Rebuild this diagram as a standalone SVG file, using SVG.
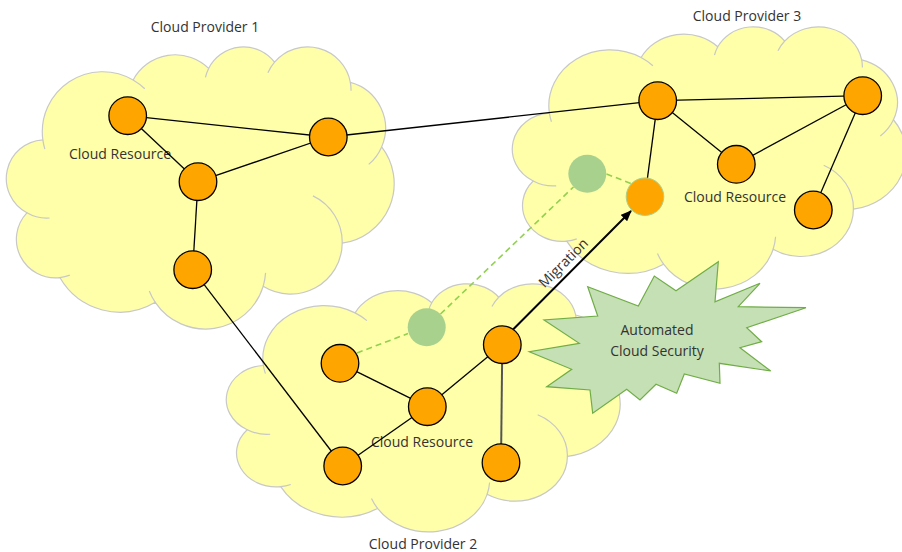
<svg xmlns="http://www.w3.org/2000/svg" xmlns:xlink="http://www.w3.org/1999/xlink" width="902" height="552" viewBox="0 0 902 552">
<style>
.cloud{fill:#FFFFA9;stroke:#C8C8C8;stroke-width:1.2}
.cloudln{fill:none;stroke:#C8C8C8;stroke-width:1.2}
.lbl{font-family:"Open Sans","Noto Sans","DejaVu Sans",sans-serif;font-size:14px;fill:#333;text-anchor:middle}
.edge{stroke:#000;stroke-width:1.3;fill:none}
.node{fill:#FFA500;stroke:#000;stroke-width:1.3}
.ghost{fill:#A9D18E;stroke:none}
.dash{stroke:#92D050;stroke-width:1.6;stroke-dasharray:6 4;fill:none}
</style>
<defs>
<path id="cloudShape" vector-effect="non-scaling-stroke" d="M3900 14370A6753 9190 0 0 1 14005 5202A5333 7267 0 0 1 22455 3432A4365 5945 0 0 1 29832 2479A4857 6595 0 0 1 38317 5574A5333 7273 0 0 1 41817 15458A6775 9220 0 0 1 37404 30204A5785 7867 0 0 1 28556 36814A6752 9215 0 0 1 16482 39268A7720 10543 0 0 1 5806 35475A4360 5918 0 0 1 2115 25554A4345 5945 0 0 1 3900 14370Z"/>
<path id="cloudLines" vector-effect="non-scaling-stroke" d="M4649 26351A4345 5945 0 0 1 2115 25554M6915 35094A4360 5918 0 0 1 5806 35475M16482 39268A6752 9215 0 0 1 15813 37526M28827 34751A6752 9215 0 0 1 28556 36814M34129 22954A5785 7867 0 0 1 37404 30204M41817 15458A5333 7273 0 0 1 40369 18135M38317 5574A4857 6595 0 0 1 38394 6839M29089 4093A4857 6595 0 0 1 29832 2479M22096 4820A4365 5945 0 0 1 22455 3432M14005 5202A6753 9190 0 0 1 15307 6554M4126 15790A6753 9190 0 0 1 3900 14370"/>
<marker id="arrow" markerUnits="userSpaceOnUse" markerWidth="11" markerHeight="9" refX="10" refY="4.5" orient="auto">
<path d="M0,0 L11,4.5 L0,9 z" fill="#000"/>
</marker>
</defs>

<g id="cloud1">
<g transform="translate(8,46) scale(0.0089352,0.0065278)">
<use xlink:href="#cloudShape" class="cloud"/>
<use xlink:href="#cloudLines" class="cloudln"/>
</g>
<text class="lbl" x="205" y="32">Cloud Provider 1</text>
</g>

<g id="cloud3">
<g transform="translate(514,26) scale(0.0090741,0.0060648)">
<use xlink:href="#cloudShape" class="cloud"/>
<use xlink:href="#cloudLines" class="cloudln"/>
</g>
<text class="lbl" x="747" y="21">Cloud Provider 3</text>
</g>

<g id="cloud2">
<g transform="translate(228,283) scale(0.0090741,0.0057407)">
<use xlink:href="#cloudShape" class="cloud"/>
<use xlink:href="#cloudLines" class="cloudln"/>
</g>
<text class="lbl" x="423" y="549">Cloud Provider 2</text>
</g>

<g id="security">
<polygon points="718.3,261.7 715,301.7 760,283.3 738.3,306.7 806,307.7 746.7,327.7 761.7,341.7 740,347.7 770.7,371 719.3,363.3 720,383.3 684.3,374 676.7,393.3 656,384.3 640,400 626.7,389.3 592.7,413.3 590,390 546.7,386.7 571.7,369.3 529.3,351.7 579.3,343.3 544,320 597.7,316 587.7,286.7 638.3,306 654.3,276 676,290.7" fill="#C5E0B4" stroke="#70AD47" stroke-width="1.2" stroke-linejoin="miter"/>
<text class="lbl" x="657" y="335">Automated</text>
<text class="lbl" x="657" y="355.5">Cloud Security</text>
</g>

<g id="labels">
<text class="lbl" x="120" y="159">Cloud Resource</text>
<text class="lbl" x="735" y="201.5">Cloud Resource</text>
<text class="lbl" x="422" y="446.5">Cloud Resource</text>
</g>

<g id="connectors">
<line class="edge" x1="127.7" y1="115.7" x2="328.3" y2="137"/>
<line class="edge" x1="127.7" y1="115.7" x2="198" y2="181.7"/>
<line class="edge" x1="198" y1="181.7" x2="328.3" y2="137"/>
<line class="edge" x1="198" y1="181.7" x2="192.7" y2="269.7"/>
<line class="edge" x1="192.7" y1="269.7" x2="342.7" y2="466"/>
<line class="edge" x1="328.3" y1="137" x2="657.7" y2="100.7"/>
<line class="edge" x1="657.7" y1="100.7" x2="862.7" y2="95.7"/>
<line class="edge" x1="657.7" y1="100.7" x2="736.3" y2="164.3"/>
<line class="edge" x1="736.3" y1="164.3" x2="862.7" y2="95.7"/>
<line class="edge" x1="862.7" y1="95.7" x2="813.3" y2="210"/>
<line class="edge" x1="657.7" y1="100.7" x2="645" y2="196.7"/>
<line class="edge" x1="340" y1="363.3" x2="427.3" y2="406.7"/>
<line class="edge" x1="427.3" y1="406.7" x2="342.7" y2="466"/>
<line class="edge" x1="427.3" y1="406.7" x2="502.3" y2="344.7"/>
<line x1="502.3" y1="344.7" x2="501" y2="462.7" stroke="#555" stroke-width="2"/>
<line class="dash" x1="357" y1="353" x2="408" y2="333.5"/>
<line class="dash" x1="440.5" y1="314" x2="573.5" y2="187"/>
<line class="dash" x1="606.5" y1="174" x2="631" y2="183.5"/>
<line x1="513.3" y1="329.3" x2="631" y2="211" stroke="#000" stroke-width="2" marker-end="url(#arrow)"/>
<text class="lbl" x="566.8" y="266.4" transform="rotate(-45 566.8 266.4)">Migration</text>
</g>

<g id="node-a1"><circle class="node" cx="127.7" cy="115.7" r="18.8"/></g>
<g id="node-a2"><circle class="node" cx="328.3" cy="137" r="18.8"/></g>
<g id="node-a3"><circle class="node" cx="198" cy="181.7" r="18.8"/></g>
<g id="node-a4"><circle class="node" cx="192.7" cy="269.7" r="18.8"/></g>
<g id="node-b1"><circle class="node" cx="657.7" cy="100.7" r="18.8"/></g>
<g id="node-b2"><circle class="node" cx="862.7" cy="95.7" r="18.8"/></g>
<g id="node-b3"><circle class="node" cx="736.3" cy="164.3" r="18.8"/></g>
<g id="node-b4"><circle class="node" cx="813.3" cy="210" r="18.8"/></g>
<g id="node-b5"><circle cx="645" cy="196.7" r="18.8" fill="#FFA500" stroke="#A9D18E" stroke-width="1"/></g>
<g id="node-g3"><circle class="ghost" cx="587.3" cy="173.7" r="19"/></g>
<g id="node-c1"><circle class="node" cx="340" cy="363.3" r="18.8"/></g>
<g id="node-c2"><circle class="node" cx="427.3" cy="406.7" r="18.8"/></g>
<g id="node-c3"><circle class="node" cx="342.7" cy="466" r="18.8"/></g>
<g id="node-c4"><circle class="node" cx="502.3" cy="344.7" r="18.8"/></g>
<g id="node-c5"><circle class="node" cx="501" cy="462.7" r="18.8"/></g>
<g id="node-g2"><circle class="ghost" cx="426.7" cy="327.3" r="19"/></g>
</svg>
